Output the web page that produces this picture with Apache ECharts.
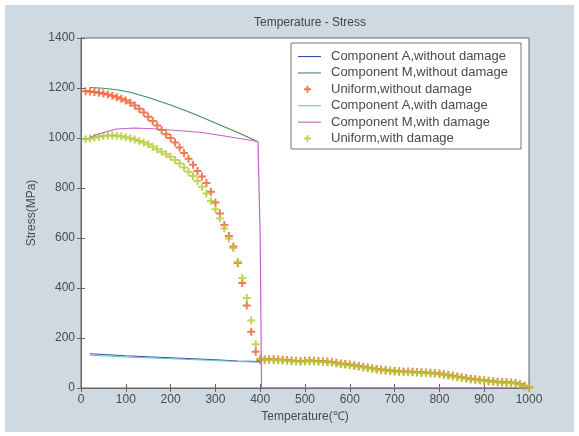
<!DOCTYPE html>
<html>
<head>
<meta charset="utf-8">
<script src="https://cdn.jsdelivr.net/npm/echarts@6/dist/echarts.min.js"></script>
<style>
  html, body { margin: 0; padding: 0; background: #fff; }
  #wrap { position: relative; width: 579px; height: 436px; overflow: hidden; }
  #frame { position: absolute; left: 5px; top: 5px; width: 569px; height: 427px; background: #cfd9e2; }
  #chart { position: absolute; left: 0; top: 0; width: 579px; height: 436px; }
</style>
</head>
<body>
<div id="wrap">
  <div id="frame"></div>
  <div id="chart"></div>
</div>
<script>
// temperature samples of the "uniform" marker series
const temps = [
  10, 20, 30, 40, 50, 60, 70, 80, 90, 100,
  110, 120, 130, 140, 150, 160, 170, 180, 190, 200,
  210, 220, 230, 240, 250, 260, 270, 280, 290, 300,
  310, 320, 330, 340, 350, 360, 370, 380, 390, 400,
  410, 420, 430, 440, 450, 460, 470, 480, 490, 500,
  510, 520, 530, 540, 550, 560, 570, 580, 590, 600,
  610, 620, 630, 640, 650, 660, 670, 680, 690, 700,
  710, 720, 730, 740, 750, 760, 770, 780, 790, 800,
  810, 820, 830, 840, 850, 860, 870, 880, 890, 900,
  910, 920, 930, 940, 950, 960, 970, 980, 990, 1000
]
const uniformNoDamage = [
  1187, 1186, 1184, 1181, 1178, 1174, 1169, 1163, 1157, 1150,
  1141, 1130, 1117, 1102, 1085, 1068, 1050, 1032, 1015, 1000,
  982, 962, 940, 917, 893, 868, 846, 820, 785, 742,
  698, 652, 608, 566, 500, 420, 330, 225, 145, 112,
  114, 115, 115, 114, 113, 112, 110, 109, 108, 109,
  110, 109, 108, 107, 106, 104, 101, 98, 96, 94,
  91, 88, 85, 82, 79, 76, 74, 72, 70, 68,
  67, 66, 66, 65, 64, 63, 62, 61, 60, 58,
  55, 52, 49, 46, 43, 40, 37, 35, 33, 31,
  29, 27, 25, 24, 23, 22, 21, 16, 9, 3
]
const uniformWithDamage = [
  995, 998, 1002, 1005, 1008, 1010, 1010, 1009, 1007, 1003,
  999, 994, 988, 982, 975, 965, 955, 945, 935, 925,
  912, 898, 882, 865, 848, 828, 805, 778, 748, 715,
  678, 638, 598, 560, 505, 440, 360, 270, 175, 118,
  111, 112, 112, 111, 110, 109, 107, 106, 105, 106,
  107, 106, 105, 104, 103, 101, 98, 95, 93, 91,
  88, 85, 82, 79, 76, 73, 71, 69, 67, 65,
  64, 63, 63, 62, 61, 60, 59, 58, 57, 55,
  52, 49, 46, 43, 40, 37, 34, 32, 30, 28,
  26, 24, 22, 21, 20, 19, 18, 13, 7, 1
]
// component curves, [temperature, stress]
const compANoDamage = [[20, 137], [100, 129], [200, 121], [300, 113], [350, 108], [400, 106]]
const compAWithDamage = [[20, 131], [100, 124], [200, 117], [300, 110], [350, 106], [400, 103]]
const compMNoDamage = [[20, 1202], [50, 1199], [80, 1193], [110, 1183], [150, 1162], [200, 1132],
  [250, 1098], [300, 1060], [350, 1022], [395, 985]]
const compMWithDamage = [[20, 1003], [50, 1022], [80, 1036], [120, 1040], [160, 1037], [200, 1032],
  [270, 1022], [320, 1008], [395, 986], [400, 600], [403, 0], [1000, 0]]

const seriesNames = [
  'Component A,without damage',
  'Component M,without damage',
  'Uniform,without damage',
  'Component A,with damage',
  'Component M,with damage',
  'Uniform,with damage'
]
const isLine = [true, true, false, true, true, false]

const plus = 'path://M3,0h2v3h3v2h-3v3h-2v-3h-3v-2h3z'
// legend icons: short line / plus, leaving a blank gap before the text
const lineIcon = 'path://M0,0M28,8M0,3.5h23v1.1h-23z'
const plusIcon = 'path://M0,0M28,8M8.5,0.5h2v2.5h2.5v2h-2.5v2.5h-2v-2.5h-2.5v-2h2.5z'
const font = 'Liberation Sans'

function pairs(ys) {
  return temps.map((t, i) => [t, ys[i]])
}

function lineSeries(name, data, color) {
  return {
    name: name,
    type: 'line',
    data: data,
    symbol: 'none',
    lineStyle: { color: color, width: 1.2 },
    itemStyle: { color: color },
    animation: false
  }
}

function markerSeries(name, data, color) {
  return {
    name: name,
    type: 'scatter',
    data: data,
    symbol: plus,
    symbolSize: 8,
    symbolKeepAspect: true,
    itemStyle: { color: color },
    animation: false
  }
}

const tickStyle = { inside: true, length: 4, lineStyle: { color: '#666' } }
const lineStyleAx = { lineStyle: { color: '#666', width: 1 } }
const labelStyle = { fontFamily: font, fontSize: 12, color: '#4a4a4a', margin: 6, formatter: v => String(v) }

let myChart = echarts.init(document.getElementById('chart'))
let options = {
  backgroundColor: 'transparent',
  title: {
    text: 'Temperature - Stress',
    left: 305,
    textAlign: 'center',
    top: 12,
    textStyle: { fontFamily: font, fontSize: 12, fontWeight: 'normal', color: '#444' }
  },
  legend: {
    orient: 'vertical',
    left: 291,
    top: 43,
    data: seriesNames.map((n, i) => ({ name: n, icon: isLine[i] ? lineIcon : plusIcon })),
    itemWidth: 28,
    itemHeight: 8,
    itemGap: 3.4,
    padding: [7, 13, 4, 7],
    backgroundColor: '#fff',
    borderColor: '#777',
    borderWidth: 1,
    borderRadius: 0,
    textStyle: { fontFamily: font, fontSize: 13, color: '#4a4a4a' }
  },
  grid: {
    left: 81,
    right: 50,
    top: 38,
    bottom: 48,
    show: true,
    backgroundColor: '#fff',
    borderColor: '#666',
    borderWidth: 1
  },
  xAxis: [
    {
      type: 'value',
      min: 0,
      max: 1000,
      interval: 100,
      name: 'Temperature(\u2103)',
      nameLocation: 'middle',
      nameGap: 22,
      nameTextStyle: { fontFamily: font, fontSize: 12, color: '#4a4a4a' },
      axisLine: lineStyleAx,
      axisTick: tickStyle,
      axisLabel: labelStyle,
      splitLine: { show: false }
    },
    {
      type: 'value',
      position: 'top',
      min: 0,
      max: 1000,
      interval: 100,
      axisLine: lineStyleAx,
      axisTick: tickStyle,
      axisLabel: { show: false },
      splitLine: { show: false }
    }
  ],
  yAxis: [
    {
      type: 'value',
      min: 0,
      max: 1400,
      interval: 200,
      name: 'Stress(MPa)',
      nameLocation: 'middle',
      nameGap: 43,
      nameTextStyle: { fontFamily: font, fontSize: 12, color: '#4a4a4a' },
      axisLine: lineStyleAx,
      axisTick: tickStyle,
      axisLabel: labelStyle,
      splitLine: { show: false }
    },
    {
      type: 'value',
      position: 'right',
      min: 0,
      max: 1400,
      interval: 200,
      axisLine: lineStyleAx,
      axisTick: tickStyle,
      axisLabel: { show: false },
      splitLine: { show: false }
    }
  ],
  series: [
    lineSeries(seriesNames[0], compANoDamage, '#3a4fa3'),
    lineSeries(seriesNames[1], compMNoDamage, '#3e8f5c'),
    markerSeries(seriesNames[2], pairs(uniformNoDamage), '#f0592a'),
    lineSeries(seriesNames[3], compAWithDamage, '#5fc4cf'),
    lineSeries(seriesNames[4], compMWithDamage, '#c164c8'),
    markerSeries(seriesNames[5], pairs(uniformWithDamage), '#b3c935')
  ]
}
myChart.setOption(options)
</script>
</body>
</html>
